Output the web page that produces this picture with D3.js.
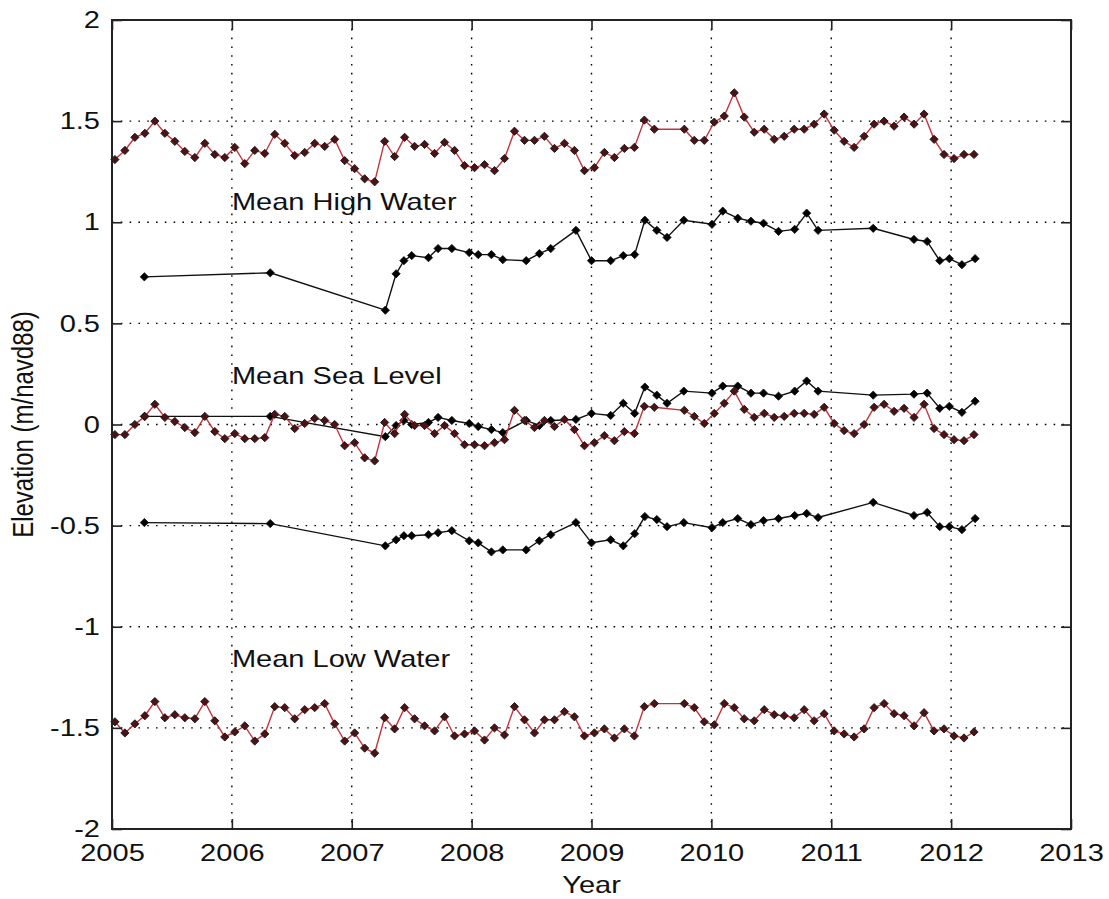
<!DOCTYPE html>
<html>
<head>
<meta charset="utf-8">
<script src="https://cdn.jsdelivr.net/npm/d3@7"></script>
<style>
  body { margin: 0; background: #fff; }
  text { font-family: "Liberation Sans", Arial, sans-serif; fill: #111; }
</style>
</head>
<body>
<div id="chart"></div>
<script>
// monthly record (Jan 2005 .. Mar 2012), null = missing month
const firstMonth = [2005, 0];

const mhwMonthly = [
  1.31, 1.355, 1.42, 1.44, 1.50, 1.44, 1.40, 1.35, 1.32, 1.39,
  1.335, 1.32, 1.37, 1.29, 1.355, 1.34, 1.435, 1.39, 1.33, 1.345,
  1.39, 1.375, 1.41, 1.305, 1.265, 1.215, 1.20, 1.40, 1.325, 1.42,
  1.375, 1.385, 1.34, 1.395, 1.355, 1.28, 1.27, 1.285, 1.255, 1.315,
  1.45, 1.405, 1.405, 1.425, 1.365, 1.39, 1.355, 1.255, 1.27, 1.345,
  1.32, 1.365, 1.37, 1.505, 1.46, null, null, 1.46, 1.405, 1.405,
  1.495, 1.525, 1.64, 1.52, 1.445, 1.46, 1.41, 1.425, 1.46, 1.46,
  1.485, 1.535, 1.455, 1.40, 1.37, 1.425, 1.485, 1.50, 1.475, 1.52,
  1.485, 1.535, 1.41, 1.335, 1.315, 1.335, 1.335
];

const mslMonthly = [
  -0.05, -0.05, 0.0, 0.04, 0.10, 0.035, 0.015, -0.015, -0.04, 0.04,
  -0.035, -0.07, -0.045, -0.07, -0.07, -0.065, 0.05, 0.04, -0.02, 0.005,
  0.03, 0.02, 0.0, -0.105, -0.09, -0.165, -0.18, 0.01, -0.045, 0.05,
  -0.005, -0.005, -0.045, -0.005, -0.045, -0.10, -0.10, -0.105, -0.09, -0.075,
  0.07, 0.02, -0.015, 0.02, -0.01, 0.025, -0.025, -0.105, -0.09, -0.055,
  -0.08, -0.035, -0.045, 0.09, 0.085, null, null, 0.07, 0.04, 0.005,
  0.055, 0.105, 0.165, 0.075, 0.035, 0.055, 0.035, 0.04, 0.055, 0.055,
  0.05, 0.085, 0.005, -0.03, -0.045, 0.0, 0.085, 0.10, 0.065, 0.08,
  0.035, 0.10, -0.02, -0.05, -0.075, -0.08, -0.05
];

const mlwMonthly = [
  -1.47, -1.525, -1.48, -1.44, -1.37, -1.45, -1.435, -1.45, -1.455, -1.37,
  -1.465, -1.545, -1.52, -1.49, -1.565, -1.53, -1.395, -1.40, -1.455, -1.41,
  -1.40, -1.38, -1.48, -1.565, -1.525, -1.60, -1.625, -1.45, -1.505, -1.40,
  -1.455, -1.49, -1.515, -1.445, -1.54, -1.53, -1.515, -1.56, -1.50, -1.535,
  -1.395, -1.46, -1.525, -1.46, -1.46, -1.42, -1.445, -1.54, -1.525, -1.505,
  -1.55, -1.505, -1.54, -1.395, -1.38, null, null, -1.38, -1.40, -1.47,
  -1.485, -1.38, -1.40, -1.455, -1.465, -1.41, -1.435, -1.44, -1.45, -1.41,
  -1.465, -1.43, -1.515, -1.53, -1.545, -1.505, -1.40, -1.38, -1.43, -1.44,
  -1.49, -1.425, -1.515, -1.505, -1.54, -1.55, -1.52
];

// irregular survey dates (decimal year) and their levels
const surveyYears = [
  2005.27, 2006.32, 2007.28, 2007.37, 2007.435, 2007.50, 2007.64, 2007.72, 2007.835, 2007.98,
  2008.055, 2008.165, 2008.26, 2008.455, 2008.565, 2008.66, 2008.87, 2009.0, 2009.16, 2009.265,
  2009.36, 2009.445, 2009.545, 2009.63, 2009.77, 2010.005, 2010.095, 2010.22, 2010.33, 2010.435,
  2010.56, 2010.695, 2010.795, 2010.89, 2011.35, 2011.69, 2011.80, 2011.905, 2011.985, 2012.09,
  2012.20
];
const mhwSurvey = [
  0.73, 0.75, 0.565, 0.745, 0.81, 0.835, 0.825, 0.87, 0.87, 0.85,
  0.84, 0.84, 0.815, 0.81, 0.845, 0.87, 0.96, 0.81, 0.81, 0.835,
  0.84, 1.01, 0.96, 0.925, 1.01, 0.99, 1.055, 1.02, 1.005, 0.995,
  0.955, 0.965, 1.045, 0.96, 0.97, 0.915, 0.905, 0.81, 0.82, 0.79,
  0.82
];
const mslSurvey = [
  0.04, 0.04, -0.06, -0.005, 0.02, 0.0, 0.01, 0.035, 0.02, 0.005,
  -0.01, -0.025, -0.04, 0.02, -0.005, 0.02, 0.025, 0.055, 0.045, 0.105,
  0.055, 0.185, 0.145, 0.105, 0.165, 0.155, 0.19, 0.19, 0.155, 0.155,
  0.14, 0.165, 0.215, 0.165, 0.145, 0.15, 0.155, 0.08, 0.09, 0.06,
  0.115
];
const lowSurvey = [
  -0.485, -0.49, -0.60, -0.57, -0.55, -0.55, -0.545, -0.535, -0.525, -0.575,
  -0.585, -0.63, -0.62, -0.62, -0.575, -0.545, -0.485, -0.585, -0.57, -0.60,
  -0.54, -0.455, -0.47, -0.505, -0.485, -0.51, -0.485, -0.465, -0.495, -0.475,
  -0.465, -0.45, -0.44, -0.46, -0.385, -0.45, -0.435, -0.505, -0.505, -0.52,
  -0.465
];

const xTicks = [2005, 2006, 2007, 2008, 2009, 2010, 2011, 2012, 2013];
const yTicks = [-2, -1.5, -1, -0.5, 0, 0.5, 1, 1.5, 2];
const labels = ["Mean High Water", "Mean Sea Level", "Mean Low Water"];
const labelLevels = [1.06, 0.2, -1.2];
const labelYear = 2006;

const W = 1109, H = 899;
const margin = { top: 20, right: 38, bottom: 70, left: 112 };
const sx = 1.21; // glyphs in the source are stretched sideways

const svg = d3.select("#chart").append("svg")
  .attr("width", W).attr("height", H);

const x = d3.scaleLinear().domain([2005, 2013]).range([margin.left, W - margin.right]);
const y = d3.scaleLinear().domain([-2, 2]).range([H - margin.bottom, margin.top]);

// month index -> date (10th of the month) -> decimal year
const toYear = d => d.getFullYear() + (d.getMonth() + (d.getDate() - 1) / 31) / 12;
const monthYears = mhwMonthly.map((_, i) => toYear(new Date(firstMonth[0], firstMonth[1] + i, 10)));

// grid
const grid = svg.append("g").attr("stroke", "#000").attr("stroke-width", 1.4)
  .attr("stroke-dasharray", "1.6,7.2");
grid.selectAll(".gx").data(xTicks.slice(1, -1)).join("line")
  .attr("x1", d => x(d)).attr("x2", d => x(d))
  .attr("y1", y(2)).attr("y2", y(-2));
grid.selectAll(".gy").data(yTicks.slice(1, -1)).join("line")
  .attr("y1", d => y(d)).attr("y2", d => y(d))
  .attr("x1", x(2005)).attr("x2", x(2013));

const line = d3.line().x(d => x(d[0])).y(d => y(d[1]));
const diamond = d3.symbol(d3.symbolSquare, 34);

function drawSeries(pts, lineColor, markFill) {
  const g = svg.append("g");
  g.append("path").datum(pts)
    .attr("d", line)
    .attr("fill", "none")
    .attr("stroke", lineColor)
    .attr("stroke-width", 1.4);
  g.selectAll("path.m").data(pts).join("path")
    .attr("class", "m")
    .attr("d", diamond)
    .attr("transform", d => `translate(${x(d[0])},${y(d[1])}) rotate(45)`)
    .attr("fill", markFill)
    .attr("stroke", "#111")
    .attr("stroke-width", 0.8);
}

const monthly = vals => monthYears.map((t, i) => [t, vals[i]]).filter(d => d[1] != null);
const survey = vals => surveyYears.map((t, i) => [t, vals[i]]);

drawSeries(survey(mhwSurvey), "#111", "#000");
drawSeries(survey(mslSurvey), "#111", "#000");
drawSeries(survey(lowSurvey), "#111", "#000");
drawSeries(monthly(mhwMonthly), "#c4343c", "#4a1416");
drawSeries(monthly(mslMonthly), "#c4343c", "#4a1416");
drawSeries(monthly(mlwMonthly), "#c4343c", "#4a1416");

// axes (ticks inside, MATLAB style)
const axB = svg.append("g").attr("transform", `translate(0,${y(-2)})`)
  .call(d3.axisBottom(x).tickValues(xTicks).tickFormat(d3.format("d")).tickSize(-10).tickPadding(15));
const axL = svg.append("g").attr("transform", `translate(${x(2005)},0)`)
  .call(d3.axisLeft(y).tickValues(yTicks).tickFormat(d => String(d)).tickSize(-10));
const axT = svg.append("g").attr("transform", `translate(0,${y(2)})`)
  .call(d3.axisTop(x).tickValues(xTicks).tickFormat("").tickSize(-10));
const axR = svg.append("g").attr("transform", `translate(${x(2013)},0)`)
  .call(d3.axisRight(y).tickValues(yTicks).tickFormat("").tickSize(-10));

[axB, axL, axT, axR].forEach(a => {
  a.select(".domain").remove();
  a.selectAll(".tick line").attr("stroke", "#222").attr("stroke-width", 1.6);
});
axB.selectAll("text")
  .attr("font-size", 24).attr("fill", "#111")
  .attr("transform", `scale(${sx},1)`);
axL.selectAll("text")
  .attr("font-size", 24).attr("fill", "#111")
  .attr("x", 0).attr("dy", "0.32em")
  .attr("transform", `translate(-12,0) scale(${sx},1)`);

// frame
svg.append("rect")
  .attr("x", x(2005)).attr("y", y(2))
  .attr("width", x(2013) - x(2005)).attr("height", y(-2) - y(2))
  .attr("fill", "none").attr("stroke", "#222").attr("stroke-width", 2);

// annotations
svg.selectAll("text.ann").data(labels).join("text")
  .attr("class", "ann")
  .attr("transform", (d, i) => `translate(${x(labelYear)},${y(labelLevels[i])}) scale(${sx},1)`)
  .attr("font-size", 24)
  .attr("fill", "#1a1a1a")
  .text(d => d);

// axis titles
svg.append("text")
  .attr("transform", `translate(${(x(2005) + x(2013)) / 2},893) scale(${sx},1)`)
  .attr("text-anchor", "middle")
  .attr("font-size", 24)
  .text("Year");

svg.append("text")
  .attr("transform", `translate(33,${(y(2) + y(-2)) / 2}) scale(${sx},1) rotate(-90)`)
  .attr("text-anchor", "middle")
  .attr("font-size", 24)
  .text("Elevation (m/navd88)");
</script>
</body>
</html>
